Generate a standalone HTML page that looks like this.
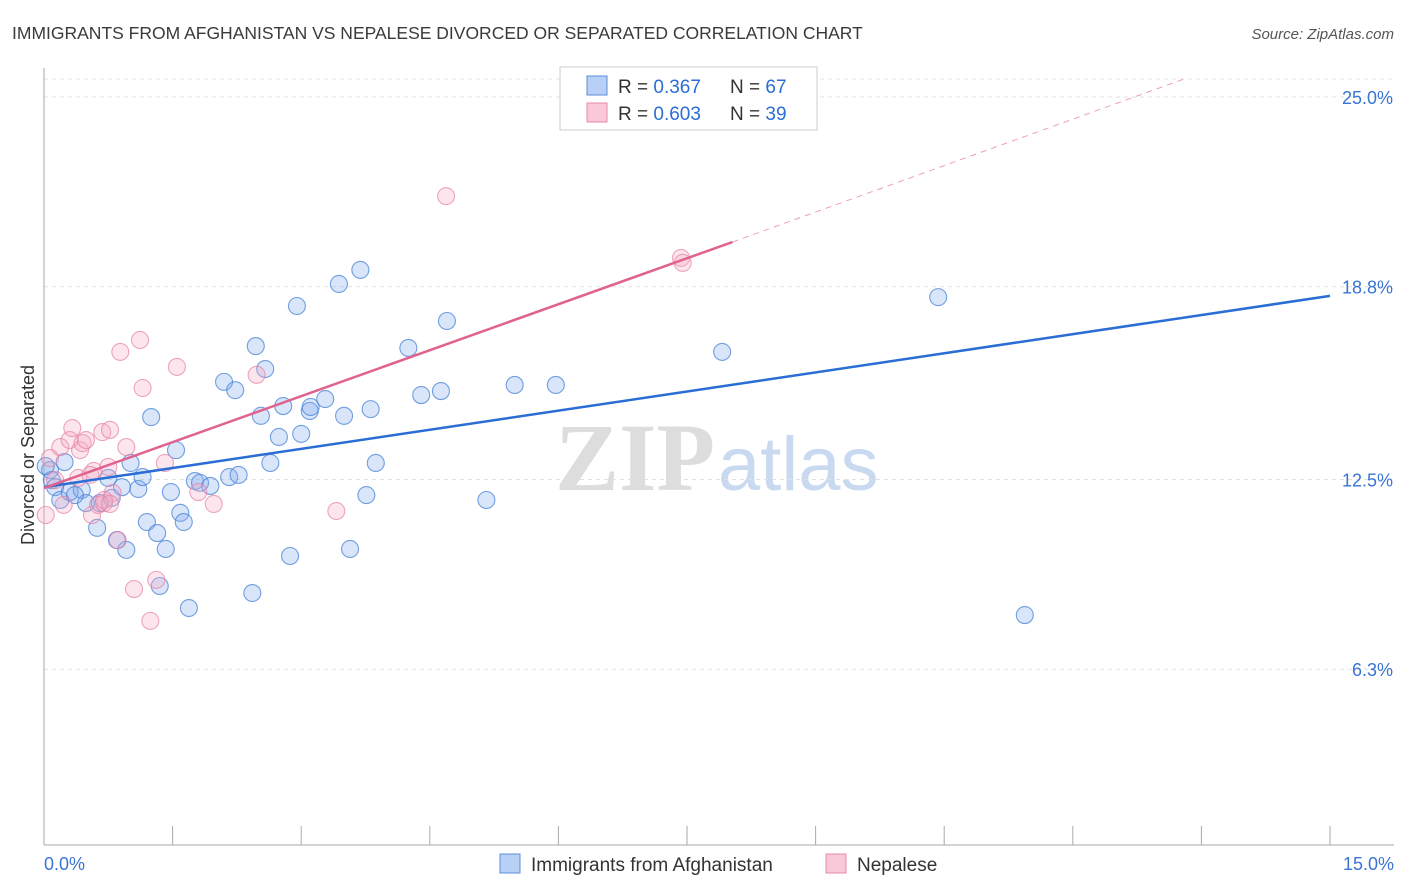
<!DOCTYPE html>
<html><head><meta charset="utf-8"><style>
body{margin:0;background:#fff;font-family:"Liberation Sans",sans-serif}
svg{display:block}
</style></head><body>
<svg id="c" width="1406" height="892" xmlns="http://www.w3.org/2000/svg" font-family="Liberation Sans, sans-serif">
<text x="12" y="39" font-size="17.5" fill="#3a3a3a">IMMIGRANTS FROM AFGHANISTAN VS NEPALESE DIVORCED OR SEPARATED CORRELATION CHART</text>
<text x="1394" y="39" font-size="15" fill="#555" text-anchor="end" font-style="italic">Source: ZipAtlas.com</text>
<g><text x="555" y="490" font-size="96" fill="#ddd" font-family="Liberation Serif, serif" font-weight="bold">ZIP</text><text x="718" y="490" font-size="76" fill="#c9d9f0">atlas</text></g>
<g id="grid"></g>
<g id="axes"></g>
<g id="pts"></g>
<g id="lines"></g>
<text transform="translate(34,455) rotate(-90)" font-size="18" fill="#333" text-anchor="middle">Divorced or Separated</text>
<g>
<rect x="560" y="67" width="257" height="63" fill="#fff" stroke="#ccc"/>
<rect x="587" y="76" width="20" height="19" fill="#b8d0f5" stroke="#5b8fd9"/>
<rect x="587" y="103" width="20" height="19" fill="#fac8d8" stroke="#e88aa8"/>
<text x="618" y="93" font-size="19" fill="#333">R = <tspan fill="#2a6dd4">0.367</tspan></text>
<text x="730" y="93" font-size="19" fill="#333">N = <tspan fill="#2a6dd4">67</tspan></text>
<text x="618" y="120" font-size="19" fill="#333">R = <tspan fill="#2a6dd4">0.603</tspan></text>
<text x="730" y="120" font-size="19" fill="#333">N = <tspan fill="#2a6dd4">39</tspan></text>
</g>
<g>
<rect x="500" y="854" width="20" height="19" fill="#b8d0f5" stroke="#5b8fd9"/>
<text x="531" y="871" font-size="19" fill="#333">Immigrants from Afghanistan</text>
<rect x="826" y="854" width="20" height="19" fill="#fac8d8" stroke="#e88aa8"/>
<text x="857" y="871" font-size="19" fill="#333">Nepalese</text>
</g>
</svg>
<script>
const blueX=[0.07,0.09,0.13,0.19,0.24,0.30,0.44,0.49,0.62,0.65,0.75,0.79,0.85,0.91,0.96,1.01,1.10,1.15,1.20,1.25,1.32,1.35,1.42,1.48,1.54,1.59,1.63,1.69,1.76,1.82,1.94,2.10,2.16,2.23,2.27,2.43,2.47,2.53,2.58,2.64,2.74,2.79,2.87,2.95,3.00,3.10,3.11,3.28,3.44,3.50,3.57,3.69,3.76,3.81,3.87,4.25,4.40,4.63,4.70,5.16,5.49,5.97,7.91,10.43,11.44,0.02,0.36];
const blueY=[12.81,12.48,12.25,11.83,13.07,12.09,12.16,11.73,10.92,11.73,12.55,11.90,10.52,12.25,10.20,13.04,12.19,12.58,11.11,14.54,10.75,9.02,10.23,12.09,13.46,11.41,11.11,8.30,12.45,12.39,12.29,15.69,12.58,15.42,12.65,8.79,16.86,14.58,16.11,13.04,13.89,14.90,10.00,18.17,13.99,14.74,14.87,15.13,18.89,14.58,10.23,19.35,11.99,14.80,13.04,16.80,15.26,15.39,17.68,11.83,15.59,15.59,16.67,18.46,8.07,12.94,11.99];
const pinkX=[0.02,0.07,0.13,0.19,0.23,0.30,0.33,0.40,0.42,0.45,0.49,0.56,0.58,0.63,0.68,0.70,0.75,0.77,0.80,0.86,0.89,0.96,1.05,1.12,1.15,1.24,1.31,1.41,1.55,1.80,1.98,2.48,3.41,4.69,7.43,7.45,0.70,0.77,0.54];
const pinkY=[11.34,13.20,12.48,13.56,11.67,13.79,14.18,12.55,13.46,13.69,13.79,11.34,12.78,11.67,14.05,11.73,12.91,14.12,12.06,10.52,16.67,13.56,8.92,17.06,15.49,7.88,9.22,13.04,16.18,12.09,11.70,15.92,11.47,21.76,19.74,19.58,11.83,11.70,12.65];
const yTicks=[25.0,18.8,12.5,6.3];
const yTickLabels=["25.0%","18.8%","12.5%","6.3%"];
const xTicks=[0,1.5,3,4.5,6,7.5,9,10.5,12,13.5,15];
const blueTrend=[[0,12.25],[15,18.5]];
const pinkTrend=[[0,12.22],[8.03,20.26]];
const pinkDash=[[8.03,20.26],[13.31,25.6]];
const X=v=>44+v/15*1286, Y=v=>862-v/25*765;
const NS="http://www.w3.org/2000/svg";
function mk(p,t,a){const e=document.createElementNS(NS,t);for(const k in a)e.setAttribute(k,a[k]);document.getElementById(p).appendChild(e);return e;}
let g=mk('grid','line',{x1:44,x2:1394,y1:79,y2:79,stroke:'#e3e3e3','stroke-dasharray':'4,4'});


yTicks.forEach((t,i)=>{
 const l=mk('grid','line',{x1:44,x2:1394,y1:Y(t),y2:Y(t),stroke:'#e0e0e0','stroke-dasharray':'4,4'});
 
 
 const tx=mk('axes','text',{x:1393,y:Y(t)+7,'font-size':18,fill:'#3a74d4','text-anchor':'end'});
 tx.textContent=yTickLabels[i];
 
 
});
let a=mk('axes','line',{x1:44,x2:44,y1:68,y2:845,stroke:'#aaa'});


a=mk('axes','line',{x1:44,x2:1394,y1:845,y2:845,stroke:'#aaa'});


xTicks.forEach(t=>{const l=mk('axes','line',{x1:X(t),x2:X(t),y1:826,y2:845,stroke:'#aaa'});
 
 });
let t0=mk('axes','text',{x:44,y:870,'font-size':18,fill:'#3a74d4'});t0.textContent='0.0%';


let t1=mk('axes','text',{x:1394,y:870,'font-size':18,fill:'#3a74d4','text-anchor':'end'});t1.textContent='15.0%';


blueX.forEach((v,i)=>{const c=mk('pts','circle',{cx:X(v),cy:Y(blueY[i]),r:8.5,fill:'rgba(130,170,235,0.3)',stroke:'rgba(70,130,215,0.75)','stroke-width':1.1});
 
 });
pinkX.forEach((v,i)=>{const c=mk('pts','circle',{cx:X(v),cy:Y(pinkY[i]),r:8.5,fill:'rgba(245,170,195,0.3)',stroke:'rgba(230,130,165,0.7)','stroke-width':1.1});
 
 });
let L=mk('lines','line',{x1:X(blueTrend[0][0]),y1:Y(blueTrend[0][1]),x2:X(blueTrend[1][0]),y2:Y(blueTrend[1][1]),stroke:'#2a6dd4','stroke-width':2.5});


L=mk('lines','line',{x1:X(pinkTrend[0][0]),y1:Y(pinkTrend[0][1]),x2:X(pinkTrend[1][0]),y2:Y(pinkTrend[1][1]),stroke:'#e0628e','stroke-width':2.5});


L=mk('lines','line',{x1:X(pinkDash[0][0]),y1:Y(pinkDash[0][1]),x2:X(pinkDash[1][0]),y2:Y(pinkDash[1][1]),stroke:'#eca0b8','stroke-width':1,'stroke-dasharray':'6,5'});


</script>
</body></html>
